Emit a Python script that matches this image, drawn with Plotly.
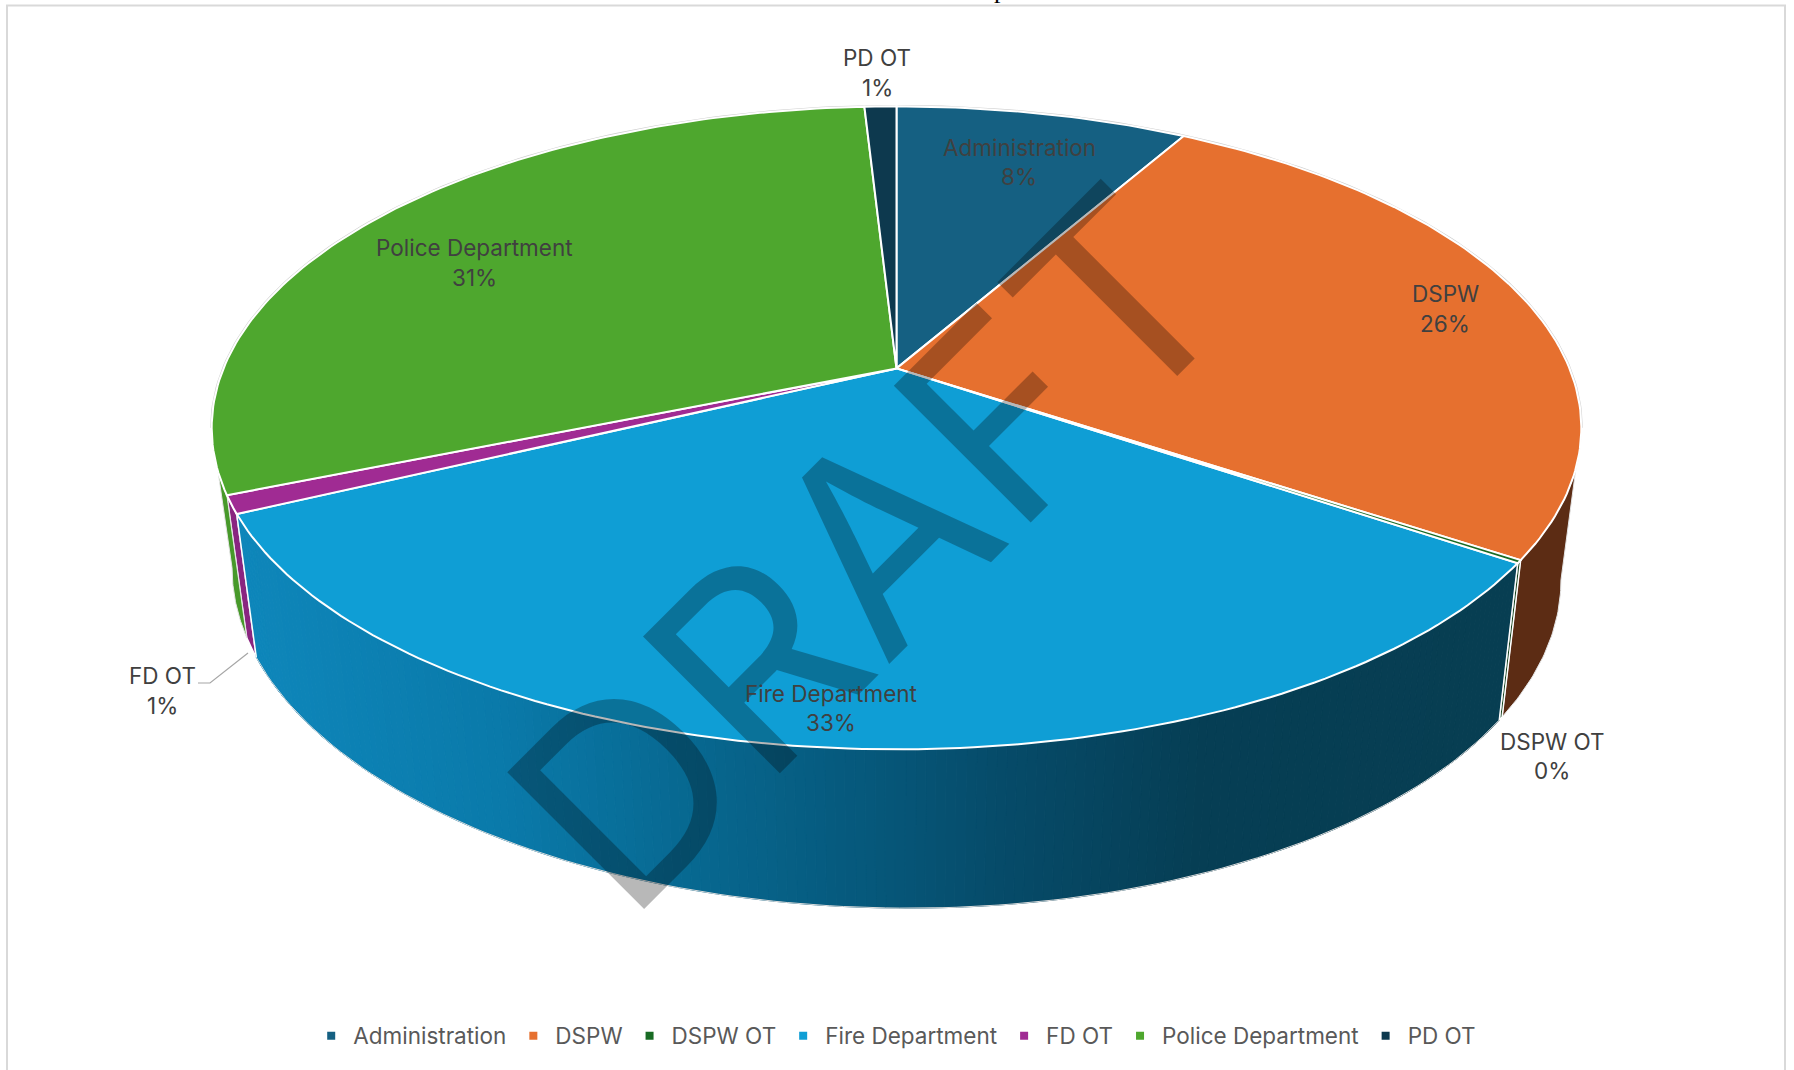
import numpy as np
import plotly.graph_objects as go

# ---- data ----
categories = ["Administration", "DSPW", "DSPW OT", "Fire Department", "FD OT", "Police Department", "PD OT"]
values = [8.25, 26.1, 0.15, 33.4, 0.9, 30.3, 0.9]
percent_labels = ["8%", "26%", "0%", "33%", "1%", "31%", "1%"]
top_colors = ["#156082", "#E6702F", "#196B24", "#0F9ED5", "#A02B93", "#4EA72E", "#0D394E"]
side_colors = ["#0E4058", "#5C2C14", "#123F18", None, "#892580", "#47992A", "#0A2C3C"]

# ---- layout constants (pixels of the 1794x1070 page) ----
W, H = 1794, 1070
CX, CY, A, B, K = 896.5, 368.4, 673.0, 310.5, 0.185
Y2, A2, B2, C2 = 512.0, 653.0, 322.8, 6.0
LABELS = {
    "Administration": (1019, 147, 176),
    "DSPW": (1445, 293, 323),
    "DSPW OT": (1552, 741, 770),
    "Fire Department": (831, 693, 722),
    "FD OT": (162, 675, 705),
    "Police Department": (474, 247, 277),
    "PD OT": (877, 57, 87),
}
GRAD_X = [253, 500, 700, 900, 1000, 1200, 1498]
GRAD_R = [14, 10, 7, 6, 6, 6, 7]
GRAD_G = [134, 122, 103, 85, 75, 62, 62]
GRAD_B = [186, 170, 143, 119, 105, 84, 82]
FONT = "Inter, Roboto, sans-serif"
FONT_SIZE = 22.5


def top(t):
    d = 1 + K * np.cos(t)
    return CX + A * np.sin(t) / d, CY - B * np.cos(t) / d


def bottom(t):
    d = 1 + K * np.cos(t)
    return CX + A2 * np.sin(t) / d, Y2 - B2 * np.cos(t) / d + C2 * np.sin(t) / d


def poly(fig, x, y, fill, line="white", width=2):
    fig.add_trace(go.Scatter(x=list(x), y=list(y), mode="lines", fill="toself", fillcolor=fill,
                             line=dict(color=line, width=width), hoverinfo="skip", showlegend=False))


total = sum(values)
edges = np.concatenate([[0], np.cumsum(values)]) / total * 2 * np.pi
fig = go.Figure()

# frame
fig.add_trace(go.Scatter(x=[7, 7, 1785, 1785], y=[1070, 5.5, 5.5, 1070], mode="lines",
                         line=dict(color="#D9D9D9", width=2), hoverinfo="skip", showlegend=False))

# side walls
tan_r, tan_l = np.arccos(-K), 2 * np.pi - np.arccos(-K)
def wall(t0, t1, color, line="white", width=1.5):
    t = np.linspace(t0, t1, 40)
    xa, ya = top(t)
    xb, yb = bottom(t[::-1])
    poly(fig, np.r_[xa, xb, xa[0]], np.r_[ya, yb, ya[0]], color, line, width)

wall(tan_r, edges[2], side_colors[1], "#e4e4e4", 1)
wall(edges[2], edges[3], side_colors[2], "white", 1.5)
wall(edges[4], edges[5], side_colors[4], "white", 1.5)
wall(edges[5], tan_l, side_colors[5], "#e4e4e4", 1)

# fire wall: shaded in narrow strips along the rim
ts = np.linspace(edges[3], edges[4], 171)
for t0, t1 in zip(ts[:-1], ts[1:]):
    xa, ya = top(np.array([t0, t1]))
    xb, yb = bottom(np.array([t1, t0]))
    xm = (xa.mean() + xb.mean()) / 2
    col = f"rgb({np.interp(xm, GRAD_X, GRAD_R):.0f},{np.interp(xm, GRAD_X, GRAD_G):.0f},{np.interp(xm, GRAD_X, GRAD_B):.0f})"
    poly(fig, np.r_[xa, xb, xa[0]], np.r_[ya, yb, ya[0]], col, col, 1)
t = np.linspace(edges[3], edges[4], 120)
xb, yb = bottom(t)
fig.add_trace(go.Scatter(x=xb, y=yb, mode="lines", line=dict(color="#dcdcdc", width=1),
                         hoverinfo="skip", showlegend=False))
for e in (edges[3], edges[4]):
    xa, ya = top(np.array([e])); xb, yb = bottom(np.array([e]))
    fig.add_trace(go.Scatter(x=[xa[0], xb[0]], y=[ya[0], yb[0]], mode="lines", line=dict(color="white", width=1.5),
                             hoverinfo="skip", showlegend=False))

# thin grey outline behind the top rim
t = np.linspace(tan_l - 2 * np.pi, tan_r, 200)
xr, yr = top(t)
fig.add_trace(go.Scatter(x=xr, y=yr, mode="lines", line=dict(color="#cfcfcf", width=3),
                         hoverinfo="skip", showlegend=False))

# top faces
order = [0, 1, 3, 4, 5, 6, 2]
for i in order:
    t = np.linspace(edges[i], edges[i + 1], max(4, int((edges[i + 1] - edges[i]) * 60)))
    x, y = top(t)
    poly(fig, np.r_[CX, x, CX], np.r_[CY, y, CY], top_colors[i], "white", 2)

# leader line for FD OT
fig.add_trace(go.Scatter(x=[198, 210, 248], y=[683, 683, 653], mode="lines",
                         line=dict(color="#A6A6A6", width=1.2), hoverinfo="skip", showlegend=False))

# legend entries
for name, col in zip(categories, top_colors):
    fig.add_trace(go.Scatter(x=[None], y=[None], mode="markers", name=name,
                             marker=dict(symbol="square", size=8, color=col)))

ann = [
    dict(text="DRAFT", x=868, y=548, textangle=-45, showarrow=False, xanchor="center", yanchor="middle",
         font=dict(family="Inter, sans-serif", size=266, color="rgba(0,0,0,0.28)")),
    dict(text="p", x=1000, y=6, showarrow=False, xanchor="center", yanchor="bottom",
         font=dict(family="Liberation Serif", size=26, color="black")),
]
for i, name in enumerate(categories):
    x, y1, y2 = LABELS[name]
    ann.append(dict(text=name, x=x, y=y1, showarrow=False, xanchor="center", yanchor="middle",
                    font=dict(family=FONT, size=FONT_SIZE, color="#404040")))
    ann.append(dict(text=percent_labels[i], x=x, y=y2, showarrow=False, xanchor="center",
                    yanchor="middle", font=dict(family=FONT, size=FONT_SIZE, color="#404040")))

fig.update_layout(
    width=W, height=H, margin=dict(l=0, r=0, t=0, b=0),
    paper_bgcolor="white", plot_bgcolor="white",
    xaxis=dict(range=[0, W], visible=False, fixedrange=True),
    yaxis=dict(range=[H, 0], visible=False, fixedrange=True),
    annotations=ann,
    legend=dict(orientation="h", x=0.499, xanchor="center", y=(H - 1036) / H, yanchor="middle", itemwidth=34,
                font=dict(family=FONT, size=FONT_SIZE, color="#595959"), itemclick=False, itemdoubleclick=False,
                bgcolor="rgba(0,0,0,0)"),
)
fig.write_html("out.html", config=dict(displayModeBar=False),
               post_script="document.body.style.margin='0';document.body.style.overflow='hidden';")
